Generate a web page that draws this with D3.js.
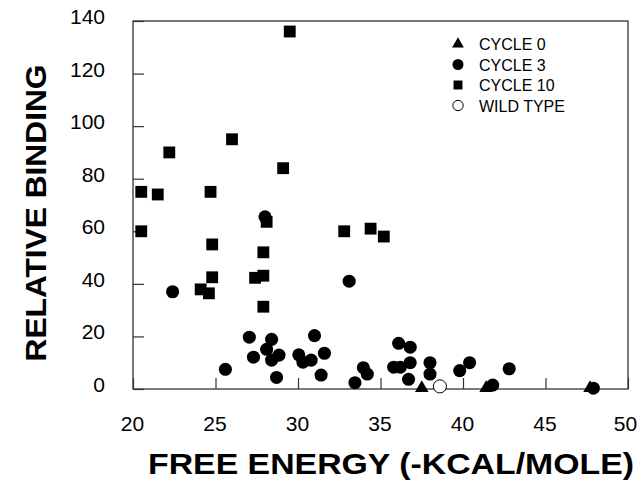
<!DOCTYPE html>
<html>
<head>
<meta charset="utf-8">
<script src="https://cdn.jsdelivr.net/npm/d3@7"></script>
<style>
  body { margin: 0; background: #fff; }
  text { font-family: "Liberation Sans", Arial, Helvetica, sans-serif; }
</style>
</head>
<body>
<script>
const width = 639;
const height = 482;

// cycle 0 (triangles)
const cycle0X = [37.5, 41.4, 47.7];
const cycle0Y = [0, 0, 0];

// cycle 3 (filled circles)
const cycle3X = [28.0, 22.4, 33.1, 27.05, 28.4, 28.1, 27.3, 28.4, 28.85, 25.6, 28.7,
  30.05, 30.3, 31.0, 30.8, 31.6, 31.4, 33.45, 33.96, 34.2, 36.1, 36.8, 35.8, 36.2,
  36.8, 36.7, 38.0, 38.0, 39.8, 40.4, 41.8, 42.8, 47.9];
const cycle3Y = [65.5, 37, 41, 19.7, 18.9, 15.1, 12.1, 11, 12.9, 7.5, 4.4,
  13, 10.2, 20.3, 11, 13.6, 5.3, 2.4, 8.1, 5.7, 17.4, 15.9, 8.3, 8.3,
  10, 3.7, 10, 5.7, 7.0, 10, 1.5, 7.7, 0.3];

// cycle 10 (squares)
const cycle10X = [29.5, 26.0, 22.2, 29.1, 20.5, 21.5, 24.7, 28.1, 20.5, 24.8, 27.9,
  24.8, 27.4, 27.9, 24.1, 24.6, 27.9, 32.8, 34.4, 35.2];
const cycle10Y = [136, 95, 90, 84, 75, 74, 75, 63.6, 60, 55, 52,
  42.5, 42.3, 43.1, 37.9, 36.4, 31.3, 60, 61, 58];

// wild type (open circle)
const wildX = [38.6];
const wildY = [1];

const xTicks = [20, 25, 30, 35, 40, 45, 50];
const yTicks = [0, 20, 40, 60, 80, 100, 120, 140];
const legendLabels = ["CYCLE 0", "CYCLE 3", "CYCLE 10", "WILD TYPE"];

const svg = d3.select("body")
  .append("svg")
  .attr("width", width)
  .attr("height", height);

const plotLeft = 133, plotRight = 628, plotTop = 21, plotBottom = 389;

const x = d3.scaleLinear().domain([20, 50]).range([plotLeft, plotRight]);
const y = d3.scaleLinear().domain([0, 140]).range([plotBottom, plotTop]);

// frame
svg.append("rect")
  .attr("x", plotLeft)
  .attr("y", plotTop)
  .attr("width", plotRight - plotLeft)
  .attr("height", plotBottom - plotTop)
  .attr("fill", "none")
  .attr("stroke", "#333")
  .attr("stroke-width", 1.3);

// x axis
const xAxis = svg.append("g")
  .attr("transform", `translate(0,${plotBottom})`)
  .call(d3.axisBottom(x).tickValues(xTicks).tickSizeInner(-11).tickSizeOuter(0).tickPadding(27));
xAxis.select(".domain").remove();
xAxis.selectAll("line").attr("stroke", "#333").attr("stroke-width", 1.2);
xAxis.selectAll("text")
  .attr("font-size", 21)
  .attr("fill", "#000")
  .attr("dx", d => d === 50 ? -3 : -1)
  .style("font-family", "'Liberation Sans', Arial, sans-serif");

// y axis
const yAxis = svg.append("g")
  .attr("transform", `translate(${plotLeft},0)`)
  .call(d3.axisLeft(y).tickValues(yTicks).tickSizeInner(-11).tickSizeOuter(0).tickPadding(28));
yAxis.select(".domain").remove();
yAxis.selectAll("line").attr("stroke", "#333").attr("stroke-width", 1.2);
yAxis.selectAll("text")
  .attr("font-size", 21)
  .attr("fill", "#000")
  .attr("dy", "0.12em")
  .style("font-family", "'Liberation Sans', Arial, sans-serif");

// axis titles
svg.append("text")
  .attr("x", 391)
  .attr("y", 474)
  .attr("text-anchor", "middle")
  .attr("font-size", 30)
  .attr("font-weight", "bold")
  .attr("textLength", 486)
  .attr("lengthAdjust", "spacingAndGlyphs")
  .text("FREE ENERGY (-KCAL/MOLE)");

svg.append("text")
  .attr("transform", "translate(46,213) rotate(-90)")
  .attr("text-anchor", "middle")
  .attr("font-size", 29)
  .attr("font-weight", "bold")
  .attr("textLength", 297)
  .attr("lengthAdjust", "spacingAndGlyphs")
  .text("RELATIVE BINDING");

// points
const plot = svg.append("g");

const tri = d3.symbol().type(d3.symbolTriangle).size(80);
const sq = d3.symbol().type(d3.symbolSquare).size(140);
const circ = d3.symbol().type(d3.symbolCircle).size(135);

plot.selectAll(".c0")
  .data(d3.zip(cycle0X, cycle0Y))
  .join("path")
  .attr("d", tri)
  .attr("transform", d => `translate(${x(d[0])},${y(d[1]) - 1})`)
  .attr("fill", "#000");

plot.selectAll(".c10")
  .data(d3.zip(cycle10X, cycle10Y))
  .join("path")
  .attr("d", sq)
  .attr("transform", d => `translate(${x(d[0])},${y(d[1])})`)
  .attr("fill", "#000");

plot.selectAll(".c3")
  .data(d3.zip(cycle3X, cycle3Y))
  .join("path")
  .attr("d", circ)
  .attr("transform", d => `translate(${x(d[0])},${y(d[1])})`)
  .attr("fill", "#000");

plot.selectAll(".wt")
  .data(d3.zip(wildX, wildY))
  .join("path")
  .attr("d", circ)
  .attr("transform", d => `translate(${x(d[0])},${y(d[1])})`)
  .attr("fill", "#fff")
  .attr("stroke", "#000")
  .attr("stroke-width", 1);

// legend
const legend = svg.append("g").attr("transform", "translate(458,44)");
const legendSymbols = [
  { shape: d3.symbolTriangle, size: 60, fill: "#000", stroke: "none" },
  { shape: d3.symbolCircle, size: 95, fill: "#000", stroke: "none" },
  { shape: d3.symbolSquare, size: 80, fill: "#000", stroke: "none" },
  { shape: d3.symbolCircle, size: 85, fill: "#fff", stroke: "#000" }
];

legendLabels.forEach((label, i) => {
  const row = legend.append("g").attr("transform", `translate(0,${i * 20.5})`);
  const s = legendSymbols[i];
  row.append("path")
    .attr("d", d3.symbol().type(s.shape).size(s.size))
    .attr("fill", s.fill)
    .attr("stroke", s.stroke);
  row.append("text")
    .attr("x", 21)
    .attr("y", 6)
    .attr("font-size", 16)
    .attr("fill", "#000")
    .text(label);
});
</script>
</body>
</html>
